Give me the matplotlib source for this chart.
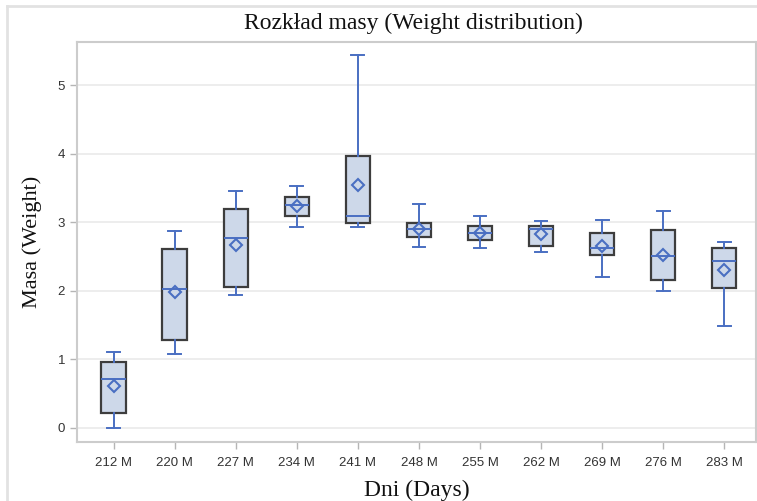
import matplotlib
matplotlib.use("Agg")
import matplotlib.pyplot as plt
from matplotlib.lines import Line2D

# weight summary per sampling day
days = ["212 M", "220 M", "227 M", "234 M", "241 M", "248 M",
        "255 M", "262 M", "269 M", "276 M", "283 M"]
whis_lo = [0.00, 1.08, 1.94, 2.93, 2.93, 2.64, 2.62, 2.57, 2.20, 2.00, 1.48]
q1 = [0.22, 1.28, 2.05, 3.09, 2.99, 2.79, 2.74, 2.65, 2.53, 2.16, 2.04]
median = [0.71, 2.02, 2.77, 3.25, 3.09, 2.90, 2.85, 2.91, 2.62, 2.51, 2.44]
q3 = [0.96, 2.61, 3.20, 3.37, 3.97, 2.99, 2.94, 2.94, 2.85, 2.89, 2.62]
whis_hi = [1.11, 2.87, 3.46, 3.53, 5.45, 3.27, 3.10, 3.02, 3.04, 3.16, 2.72]
mean = [0.61, 1.98, 2.67, 3.24, 3.55, 2.90, 2.85, 2.83, 2.66, 2.53, 2.30]

blue = "#4a6fc2"

stats = []
for i in range(len(days)):
    stats.append(dict(whislo=whis_lo[i], q1=q1[i], med=median[i], q3=q3[i],
                      whishi=whis_hi[i], mean=mean[i], fliers=[]))

fig = plt.figure(figsize=(7.57, 5.01), dpi=100)
ax = fig.add_axes([0.1017, 0.1184, 0.8970, 0.7984])

ax.bxp(stats, positions=range(len(days)), widths=0.4, capwidths=0.21,
       patch_artist=True, showmeans=True, showfliers=False,
       boxprops=dict(facecolor="#cdd8e9", edgecolor="#3d3d3d", linewidth=1.6),
       whiskerprops=dict(color=blue, linewidth=1.4),
       capprops=dict(color=blue, linewidth=1.4),
       medianprops=dict(color=blue, linewidth=1.4),
       meanprops=dict(marker="D", markerfacecolor="none", markeredgecolor=blue,
                      markersize=6.5, markeredgewidth=1.5))

ax.set_xlim(-0.6, 10.52)
ax.set_ylim(-0.205, 5.64)
ax.set_xticks(range(len(days)))
ax.set_xticklabels(days)
ax.set_yticks(range(6))

ax.set_axisbelow(True)
ax.yaxis.grid(True, color="#ececec", linewidth=1.3)
for s in ax.spines.values():
    s.set_color("#cccccc")
    s.set_linewidth(1.5)

ax.tick_params(axis="both", colors="#b5b5b5", length=5, width=1,
               labelcolor="#333333", labelsize=9.5)
for lab in ax.get_xticklabels() + ax.get_yticklabels():
    lab.set_family("Liberation Sans")
ax.tick_params(axis="x", pad=6)

serif = "Liberation Serif"
fig.text(0.546, 0.953, "Rozkład masy (Weight distribution)", family=serif,
         fontsize=17, ha="center", va="center", color="#111111")
ax.set_xlabel("Dni (Days)", family=serif, fontsize=17, color="#111111", labelpad=8)
ax.set_ylabel("Masa (Weight)", family=serif, fontsize=16, color="#111111", labelpad=11)

# light outer frame
fig.add_artist(Line2D([7 / 757, 7 / 757], [0, 1 - 6 / 501],
                      transform=fig.transFigure, color="#e2e2e2", linewidth=2))
fig.add_artist(Line2D([7 / 757, 1], [1 - 6 / 501, 1 - 6 / 501],
                      transform=fig.transFigure, color="#e2e2e2", linewidth=2))

fig.savefig("out.png", dpi=100)
